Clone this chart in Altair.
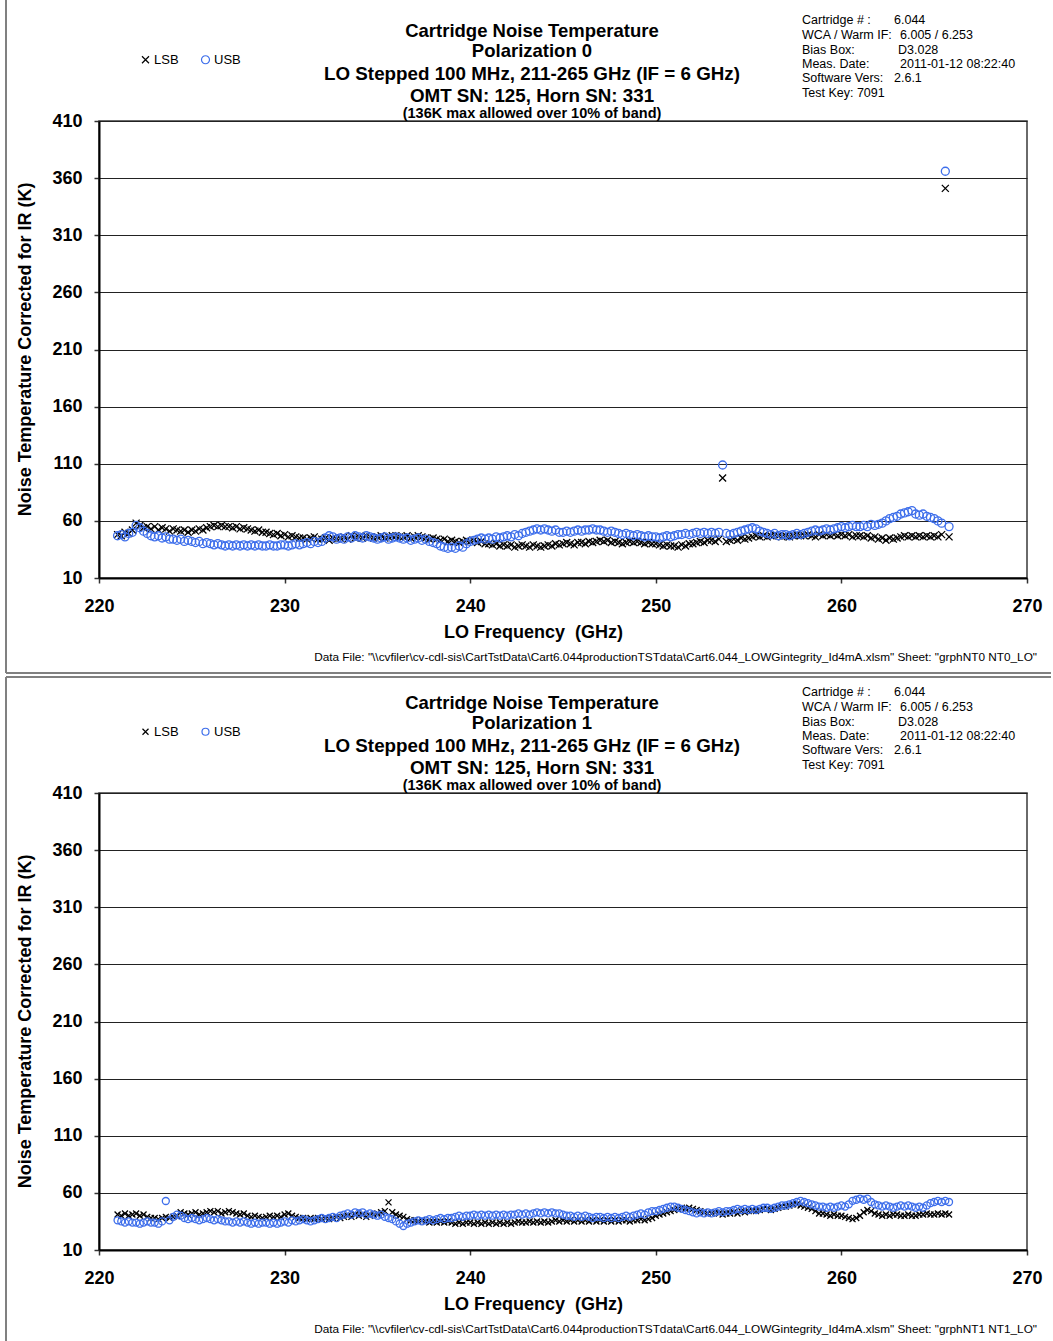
import altair as alt
import pandas as pd

# LO frequency grid (GHz), stepped every 0.2 GHz from 221.0 to 265.8
FREQ = [round(221.0 + 0.2 * i, 1) for i in range(225)]

# Polarization 0
P0_LSB = [
    48, 47, 50, 49, 52,   58, 56, 54, 55, 53,   55, 52, 54, 53, 51,   53, 52, 51, 52, 50,   52, 51, 53, 52, 54,
    55, 56, 55, 56, 55,   55, 54, 55, 53, 54,   53, 52, 51, 52, 50,   50, 49, 48, 49, 47,   48, 46, 47, 46, 45,
    45, 44, 45, 46, 44,   44, 45, 43, 45, 44,   45, 46, 44, 47, 45,   46, 45, 47, 46, 45,   46, 47, 45, 46, 47,
    47, 46, 46, 47, 45,   46, 47, 46, 45, 44,   45, 44, 43, 44, 42,   43, 42, 41, 42, 43,   42, 43, 41, 42, 40,
    40, 39, 40, 38, 39,   38, 39, 37, 38, 39,   38, 37, 39, 38, 37,   38, 39, 38, 40, 39,   40, 41, 40, 39, 41,
    41, 40, 42, 41, 42,   43, 42, 43, 41, 42,   41, 40, 41, 42, 41,   42, 41, 40, 41, 40,   40, 39, 38, 39, 38,
    38, 37, 39, 38, 40,   40, 41, 42, 41, 43,   43, 42, 44, 97.5, 42, 43, 44, 43, 45, 44,  45, 46, 47, 46, 47,
    46, 47, 48, 47, 46,   47, 46, 47, 48, 47,   47, 48, 47, 46, 48,   47, 48, 47, 48, 47,   48, 47, 48, 46, 47,
    47, 46, 47, 45, 46,   44, 45, 43, 45, 44,   45, 46, 47, 46, 47,   46, 47, 46, 47, 46,   47, 46, 48, 351, 46,
]
P0_USB = [
    47, 48, 46, 49, 50,   56, 54, 51, 49, 47,   46, 47, 45, 46, 44,   44, 43, 44, 42, 43,   42, 41, 42, 40, 41,
    40, 39, 40, 39, 38,   39, 38, 39, 38, 39,   38, 39, 38, 39, 38,   38, 39, 38, 38, 39,   39, 38, 39, 40, 39,
    40, 41, 40, 42, 41,   42, 45, 47, 46, 44,   45, 44, 46, 45, 47,   46, 45, 47, 46, 45,   44, 45, 46, 44, 45,
    46, 45, 44, 45, 43,   44, 45, 43, 44, 42,   41, 40, 38, 37, 36,   37, 36, 38, 37, 40,   42, 43, 44, 45, 44,
    45, 44, 46, 45, 46,   47, 46, 48, 47, 49,   50, 51, 52, 53, 52,   53, 52, 51, 52, 50,   50, 51, 50, 51, 52,
    51, 52, 52, 53, 52,   52, 51, 50, 51, 50,   49, 48, 49, 48, 47,   48, 47, 46, 47, 46,   46, 45, 46, 47, 46,
    47, 48, 48, 49, 48,   49, 50, 49, 50, 49,   50, 49, 50, 108.9, 49, 48, 49, 50, 51, 52,  53, 54, 53, 51, 50,
    49, 48, 49, 47, 48,   48, 47, 48, 49, 48,   49, 50, 51, 52, 51,   52, 53, 52, 53, 54,   55, 54, 55, 56, 55,
    55, 56, 55, 57, 56,   57, 58, 60, 62, 63,   64, 66, 67, 68, 69,   66, 65, 66, 64, 63,   62, 60, 58, 366, 55,
]

# Polarization 1
P1_LSB = [
    41, 40, 42, 40, 41,   42, 40, 41, 39, 38,   38, 37, 38, 39, 38,   39, 40, 43, 42, 41,   42, 43, 41, 42, 43,
    44, 43, 44, 42, 43,   44, 43, 42, 41, 42,   40, 39, 40, 39, 38,   39, 40, 39, 40, 39,   41, 42, 40, 39, 38,
    38, 37, 38, 37, 38,   37, 38, 37, 38, 39,   38, 39, 40, 39, 41,   40, 41, 39, 40, 41,   42, 43, 44, 51.7, 43,
    41, 40, 39, 37, 36,   36, 35, 36, 35, 34,   35, 34, 35, 34, 35,   34, 33, 34, 33, 34,   34, 33, 34, 33, 34,
    33, 34, 33, 34, 33,   34, 33, 34, 35, 34,   34, 35, 34, 35, 34,   35, 34, 35, 36, 35,   36, 35, 36, 35, 36,
    35, 36, 35, 36, 35,   36, 35, 36, 35, 36,   35, 36, 36, 35, 36,   36, 37, 36, 37, 38,   40, 41, 42, 43, 44,
    45, 46, 47, 46, 47,   46, 45, 44, 43, 42,   42, 43, 42, 41, 42,   42, 43, 42, 44, 43,   44, 45, 44, 45, 46,
    46, 45, 46, 47, 48,   48, 49, 50, 50, 49,   48, 47, 46, 44, 42,   42, 41, 40, 41, 40,   40, 39, 38, 37, 38,
    40, 43, 45, 44, 42,   41, 40, 41, 40, 41,   41, 40, 40, 41, 40,   40, 41, 41, 42, 41,   41, 42, 41, 42, 41,
]
P1_USB = [
    36, 35, 34, 35, 34,   34, 33, 34, 35, 34,   34, 33, 35, 52.9, 36, 39, 41, 40, 38, 37,   38, 37, 36, 37, 38,
    37, 36, 37, 36, 35,   35, 34, 35, 34, 35,   34, 33, 34, 33, 34,   34, 33, 34, 33, 34,   35, 34, 36, 35, 36,
    37, 36, 35, 36, 37,   38, 37, 38, 39, 38,   40, 41, 42, 41, 43,   42, 43, 41, 42, 41,   40, 41, 39, 38, 37,
    35, 33, 31, 33, 34,   35, 36, 35, 36, 37,   36, 37, 38, 37, 38,   38, 39, 40, 39, 40,   40, 41, 40, 41, 40,
    41, 40, 41, 40, 41,   40, 41, 41, 42, 41,   42, 41, 42, 43, 42,   43, 42, 43, 42, 42,   41, 40, 40, 39, 40,
    39, 40, 39, 38, 39,   39, 38, 39, 38, 39,   38, 39, 40, 39, 40,   41, 42, 41, 43, 44,   44, 45, 46, 47, 48,
    48, 47, 46, 45, 44,   43, 42, 43, 42, 43,   42, 43, 44, 43, 44,   44, 45, 46, 45, 46,   45, 46, 45, 46, 47,
    47, 46, 47, 48, 49,   49, 50, 51, 52, 53,   52, 51, 50, 49, 48,   48, 47, 48, 47, 48,   49, 48, 50, 53, 54,
    55, 54, 55, 52, 50,   49, 48, 49, 48, 47,   48, 49, 48, 49, 48,   47, 48, 47, 49, 51,   52, 53, 52, 53, 52,
]

BANDS = ["LSB", "USB"]
BAND_COLORS = ["#000000", "#3D6EEB"]
X_TICKS = [220, 230, 240, 250, 260, 270]
Y_TICKS = [10, 60, 110, 160, 210, 260, 310, 360, 410]

INFO_LABELS = ["Cartridge # :", "WCA / Warm IF:", "Bias Box:", "Meas. Date:", "Software Vers:", "Test Key: 7091"]
INFO_VALUES = ["6.044", "6.005 / 6.253", "D3.028", "2011-01-12 08:22:40", "2.6.1", ""]

TITLE_LINES = ["Cartridge Noise Temperature", "Polarization {p}",
               "LO Stepped 100 MHz, 211-265 GHz (IF = 6 GHz)", "OMT SN: 125, Horn SN: 331",
               "(136K max allowed over 10% of band)"]

X_TITLE = "LO Frequency\u00a0 (GHz)"
Y_TITLE = "Noise Temperature Corrected for IR (K)"

FILE_NOTE = (r'Data File: "\\cvfiler\cv-cdl-sis\CartTstData\Cart6.044productionTSTdata'
             r'\Cart6.044_LOWGintegrity_Id4mA.xlsm"  Sheet: "grphNT{p} NT{p}_LO"')

XPATH = "M-1,-1L1,1M1,-1L-1,1"
W, H = 928, 457
FONT = "Liberation Sans"


def txt(s, x, y, size, bold=False, align="center", font=FONT):
    return alt.Chart(pd.DataFrame({"t": [s]})).mark_text(
        align=align, baseline="middle", fontSize=size,
        fontWeight="bold" if bold else "normal", font=font, color="black"
    ).encode(text="t:N", x=alt.value(x), y=alt.value(y))


def rule(x, x2, y, y2):
    return alt.Chart(pd.DataFrame({"a": [0]})).mark_rule(color="#808080", strokeWidth=2).encode(
        x=alt.value(x), x2=alt.value(x2), y=alt.value(y), y2=alt.value(y2))


def legend_def(sym):
    return alt.Legend(orient="none", legendX=40, legendY=-68, direction="horizontal",
                      title=None, labelFontSize=13, labelFont=FONT, labelFontWeight="normal",
                      symbolStrokeWidth=1.2, symbolSize=sym,
                      columnPadding=20, labelOffset=2, padding=0)


def panel(lsb, usb, pol, xsize, osize, frame):
    n = len(FREQ)
    df = pd.DataFrame({
        "freq": FREQ + FREQ,
        "temp": lsb + usb,
        "band": ["LSB"] * n + ["USB"] * n,
    })
    pts = alt.Chart(df).mark_point(filled=False, strokeWidth=1.3, opacity=1).encode(
        x=alt.X("freq:Q", scale=alt.Scale(domain=[220, 270], nice=False, zero=False),
                axis=alt.Axis(values=X_TICKS, title=X_TITLE, grid=False,
                              labelFlush=False, labelPadding=14, tickSize=5,
                              titleX=434, titleY=54, titleAlign="center", titleBaseline="middle")),
        y=alt.Y("temp:Q", scale=alt.Scale(domain=[10, 410], nice=False, zero=False),
                axis=alt.Axis(values=Y_TICKS, title=Y_TITLE,
                              grid=True, labelFlush=False, labelPadding=12, tickSize=5,
                              titleX=-74, titleY=228, titleAngle=270, titleAlign="center",
                              titleBaseline="middle")),
        color=alt.Color("band:N", scale=alt.Scale(domain=BANDS, range=BAND_COLORS),
                        legend=legend_def(xsize)),
        shape=alt.Shape("band:N", scale=alt.Scale(domain=BANDS, range=[XPATH, "circle"]),
                        legend=legend_def(xsize)),
        size=alt.Size("band:N", scale=alt.Scale(domain=BANDS, range=[xsize, osize]), legend=None),
    )
    layers = [pts]
    ys = [-90, -70, -47, -25, -7]
    sizes = [18.5, 18.5, 18.8, 18.8, 14.5]
    for line, yy, sz in zip(TITLE_LINES, ys, sizes):
        layers.append(txt(line.format(p=pol), 433, yy, sz, bold=True))
    info_y = [-101, -86, -71, -57, -43, -28]
    info_vx = [795, 801, 799, 801, 795, 0]
    for lab, val, yy, vx in zip(INFO_LABELS, INFO_VALUES, info_y, info_vx):
        layers.append(txt(lab, 703, yy, 12.5, align="left"))
        if val:
            layers.append(txt(val, vx, yy, 12.5, align="left"))
    layers.append(txt(FILE_NOTE.format(p=pol), 938, 536, 11.8, align="right"))
    for f in frame:
        layers.append(rule(*f))
    return alt.layer(*layers).properties(width=W, height=H)


p1 = panel(P0_LSB, P0_USB, 0, 49, 64,
           [(-93, -93, -121, 552), (-93, 952, 552, 552)])
p2 = panel(P1_LSB, P1_USB, 1, 36, 49,
           [(-93, -93, -116, 560), (-93, 952, -116, -116)])

chart = alt.vconcat(p1, p2, spacing=215, bounds="flush").resolve_scale(
    color="independent", shape="independent", size="independent"
).resolve_legend(color="independent", shape="independent").properties(
    padding={"left": 4, "top": -2, "right": 0, "bottom": 0}
).configure(background="white").configure_view(
    stroke="#3a3a3a", strokeWidth=1.5
).configure_axis(
    domainColor="black", domainWidth=2, tickColor="#333", tickWidth=1.5,
    gridColor="#222", gridWidth=1, labelFont=FONT, labelFontSize=18, labelFontWeight="bold",
    labelColor="black", titleFont=FONT, titleFontSize=18, titleFontWeight="bold", titleColor="black"
)

chart.save("out.html", embed_options={"renderer": "svg", "actions": False})
